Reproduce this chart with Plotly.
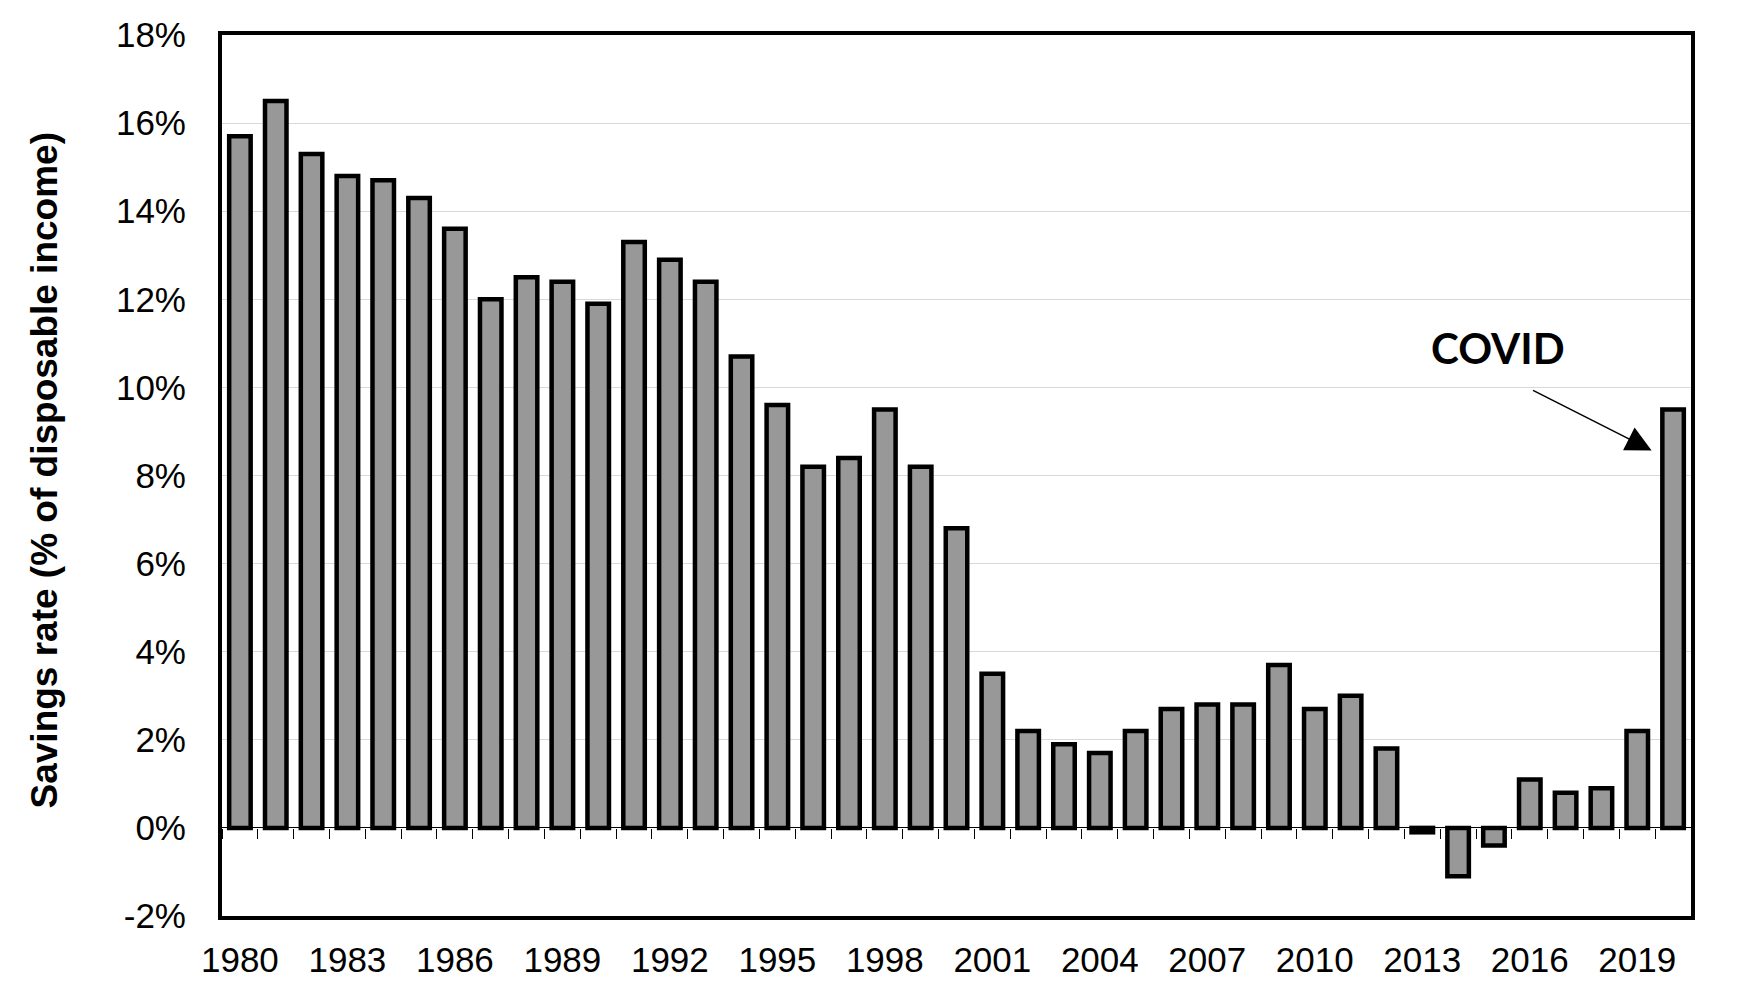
import plotly.graph_objects as go

years = list(range(1980, 2021))
savings_rate = [15.7, 16.5, 15.3, 14.8, 14.7, 14.3, 13.6, 12.0, 12.5, 12.4,
                11.9, 13.3, 12.9, 12.4, 10.7, 9.6, 8.2, 8.4, 9.5, 8.2,
                6.8, 3.5, 2.2, 1.9, 1.7, 2.2, 2.7, 2.8, 2.8, 3.7,
                2.7, 3.0, 1.8, -0.1, -1.1, -0.4, 1.1, 0.8, 0.9, 2.2,
                9.5]
x_tick_years = list(range(1980, 2020, 3))
y_tick_values = [-2, 0, 2, 4, 6, 8, 10, 12, 14, 16, 18]
y_tick_labels = ["-2%", "0%", "2%", "4%", "6%", "8%", "10%", "12%", "14%", "16%", "18%"]
y_title = "Savings rate (% of disposable income)"
annotation_text = "COVID"

FONT = "Liberation Sans, Arial, sans-serif"

fig = go.Figure()
fig.add_trace(go.Bar(
    x=years, y=savings_rate, width=0.6,
    marker=dict(color="#989898", line=dict(color="black", width=4.5)),
    hoverinfo="x+y", showlegend=False,
))
# helper trace to carry the tick-mark axis at the zero line
fig.add_trace(go.Scatter(
    x=years, y=savings_rate, xaxis="x2", mode="markers",
    marker=dict(opacity=0), hoverinfo="skip", showlegend=False,
))

xr = [years[0] - 0.5, years[-1] + 0.5]
fig.update_layout(
    width=1741, height=971,
    margin=dict(l=214, r=58, t=27, b=63),
    paper_bgcolor="white", plot_bgcolor="white",
    font=dict(family=FONT, size=35, color="black"),
    xaxis=dict(
        range=xr, tickmode="array", tickvals=x_tick_years,
        ticktext=[str(y) for y in x_tick_years],
        showgrid=False, zeroline=False, ticks="",
        showline=True, mirror=True, linecolor="black", linewidth=4,
        ticklabelstandoff=10, automargin=False,
        tickfont=dict(family=FONT, size=35, color="black"),
    ),
    xaxis2=dict(
        range=xr, overlaying="x", anchor="free", position=0.1,
        tickmode="linear", tick0=years[0] - 0.5, dtick=1,
        ticks="outside", ticklen=10, tickwidth=1, tickcolor="black",
        showticklabels=False, showgrid=False, zeroline=False, showline=False,
        automargin=False,
    ),
    yaxis=dict(
        range=[-2, 18], tickmode="array", tickvals=y_tick_values, ticktext=y_tick_labels,
        showgrid=True, gridcolor="#d9d9d9", gridwidth=1,
        zeroline=True, zerolinecolor="black", zerolinewidth=1,
        showline=True, mirror=True, linecolor="black", linewidth=4,
        ticks="", ticklabelstandoff=25, automargin=False,
        tickfont=dict(family=FONT, size=35, color="black"),
    ),
    bargap=0.4,
)

fig.add_annotation(
    xref="paper", yref="paper", x=-0.121, y=0.506,
    text=y_title, textangle=-90, showarrow=False,
    font=dict(family=FONT, size=37, color="black", weight="bold"),
    xanchor="center", yanchor="middle",
)
fig.add_annotation(
    x=2015.1, y=10.9, text=annotation_text, showarrow=False,
    font=dict(family="Lato, sans-serif", size=42, color="black", weight="bold"),
    xanchor="center", yanchor="middle",
)
fig.add_annotation(
    x=2019.4, y=8.57, ax=2016.05, ay=9.95, axref="x", ayref="y",
    text="", showarrow=True, arrowhead=2, arrowsize=3.4, arrowwidth=1.5,
    arrowcolor="black",
)

fig.write_html("out.html")
